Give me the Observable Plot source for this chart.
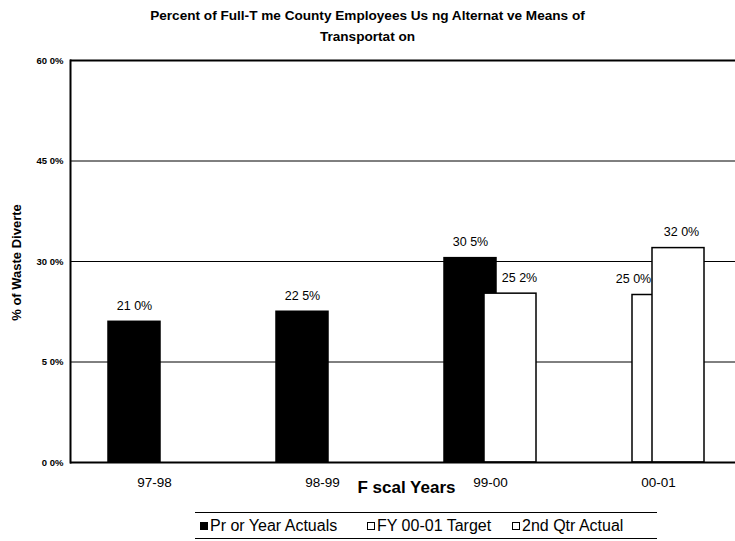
<!DOCTYPE html>
<html>
<head>
<meta charset="utf-8">
<script src="https://cdn.jsdelivr.net/npm/d3@7"></script>
<script src="https://cdn.jsdelivr.net/npm/@observablehq/plot@0.6"></script>
<style>
  body { margin: 0; background: #fff; font-family: "Liberation Sans", Arial, sans-serif; color: #000; }
  #chart { position: relative; width: 735px; height: 541px; overflow: hidden; background: #fff; }
  #title { position: absolute; top: 5px; left: 0; width: 735px; text-align: center;
           font-weight: bold; font-size: 13.6px; line-height: 21px; }
  #plot { position: absolute; top: 48px; left: 0; }
  #legend { position: absolute; top: 512px; left: 195px; width: 462px; height: 25px;
            border-top: 1px solid #000; border-bottom: 1px solid #000; font-size: 16px; }
  .item { position: absolute; top: 0; height: 25px; line-height: 25px; white-space: nowrap; }
  .sw { display: inline-block; width: 6px; height: 6px; border: 1px solid #000;
        margin-right: 2px; vertical-align: 1px; }
</style>
</head>
<body>
<div id="chart">
  <div id="title"></div>
  <div id="plot"></div>
  <div id="legend"></div>
</div>
<script>
// Fiscal years on the x axis
const categories = ["97-98", "98-99", "99-00", "00-01"];

// Percent of employees per series (null = no bar for that year)
const priorYearActuals = [21.0, 22.5, 30.5, null];
const fy0001Target     = [null, null, null, 25.0];
const secondQtrActual  = [null, null, 25.2, 32.0];

const seriesNames = ["Pr or Year Actuals", "FY 00-01 Target", "2nd Qtr Actual"];

// Value axis ticks and their printed labels
const yTicks = [0, 15, 30, 45, 60];
const yTickLabels = ["0 0%", "5 0%", "30 0%", "45 0%", "60 0%"];

const titleLines = ["Percent of Full-T me County Employees Us ng Alternat ve Means of", "Transportat on"];
const yTitle = "% of Waste Diverte";
const xTitle = "F scal Years";

// Numbers are printed with a space as the decimal separator
const locale = d3.formatLocale({decimal: " ", thousands: ",", grouping: [3], currency: ["", ""]});
const fmt1 = locale.format(".1f");
const pct = v => fmt1(v) + "%";

// Series appearance: fill colour and horizontal shift inside the year band
const series = [
  {name: seriesNames[0], values: priorYearActuals, fill: "#000", shift: -20},
  {name: seriesNames[1], values: fy0001Target,     fill: "#fff", shift: 0},
  {name: seriesNames[2], values: secondQtrActual,  fill: "#fff", shift: 20}
];

// Small nudges for labels that sit beside neighbouring bars
const labelNudge = {"FY 00-01 Target|00-01": -25, "2nd Qtr Actual|99-00": 9, "2nd Qtr Actual|00-01": 3};

const rowsFor = s => categories
  .map((c, i) => ({category: c, value: s.values[i], series: s.name}))
  .filter(d => d.value != null);

const barMarks = series.map(s =>
  Plot.barY(rowsFor(s), {
    x: "category", y: "value", fill: s.fill, stroke: "#000", strokeWidth: 1.5,
    insetLeft: 58, insetRight: 58, dx: s.shift
  })
);

const labelMarks = series.flatMap(s =>
  rowsFor(s).map(r =>
    Plot.text([r], {
      x: "category", y: "value", text: d => pct(d.value),
      dx: s.shift + (labelNudge[r.series + "|" + r.category] || 0), dy: -16,
      fontSize: 12.5, fill: "#000"
    })
  )
);

const chart = Plot.plot({
  width: 735,
  height: 457,
  marginTop: 12,
  marginBottom: 43,
  marginLeft: 70,
  marginRight: 0,
  style: {fontFamily: '"Liberation Sans", Arial, sans-serif', background: "#fff", color: "#000"},
  x: {domain: categories, range: [70, 742], padding: 0, axis: null},
  y: {domain: [0, 60], axis: null},
  marks: [
    Plot.ruleY([15, 30, 45], {stroke: "#000", strokeWidth: 1}),
    Plot.ruleY([60], {stroke: "#000", strokeWidth: 2}),
    ...barMarks,
    Plot.ruleY([0], {stroke: "#000", strokeWidth: 2}),
    Plot.frame({anchor: "left", stroke: "#000", strokeWidth: 2}),
    Plot.axisY(yTicks, {
      tickSize: 0, tickPadding: 7, label: null,
      tickFormat: d => yTickLabels[yTicks.indexOf(d)],
      fontSize: 9.5, fontWeight: "bold"
    }),
    Plot.axisX({tickSize: 0, tickPadding: 15, label: null, fontSize: 13.5}),
    Plot.text([yTitle], {
      text: d => d, frameAnchor: "left", textAnchor: "middle", rotate: -90, dx: -54, dy: 1,
      fontWeight: "bold", fontSize: 13, fill: "#000"
    }),
    Plot.text([xTitle], {
      text: d => d, frameAnchor: "bottom", dx: 3.5, dy: 30,
      fontWeight: "bold", fontSize: 17, fill: "#000"
    }),
    ...labelMarks
  ]
});
document.getElementById("plot").appendChild(chart);

// Title
const title = document.getElementById("title");
titleLines.forEach(t => {
  const div = document.createElement("div");
  div.textContent = t;
  title.appendChild(div);
});

// Legend
const legendLeft = [5, 172, 317];
const legend = document.getElementById("legend");
series.forEach((s, i) => {
  const item = document.createElement("div");
  item.className = "item";
  item.style.left = legendLeft[i] + "px";
  const sw = document.createElement("span");
  sw.className = "sw";
  sw.style.background = s.fill;
  item.appendChild(sw);
  item.appendChild(document.createTextNode(s.name));
  legend.appendChild(item);
});
</script>
</body>
</html>
